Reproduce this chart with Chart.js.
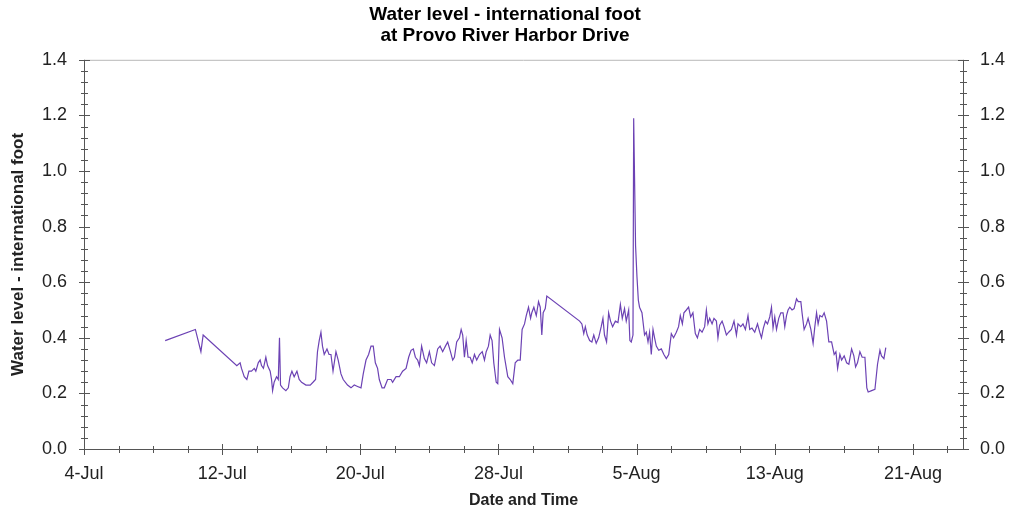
<!DOCTYPE html>
<html>
<head>
<meta charset="utf-8">
<title>Water level - Provo River Harbor Drive</title>
<script src="https://cdn.jsdelivr.net/npm/chart.js@4.4.0/dist/chart.umd.min.js"></script>
<style>
  html, body { margin: 0; padding: 0; background: #fff; }
  #wrap { width: 1010px; height: 514px; }
</style>
</head>
<body>
<div id="wrap"><canvas id="levelChart"></canvas></div>
<script>
// x values are days since 4-Jul 00:00
const dayTicks = [0, 8, 16, 24, 32, 40, 48];
const dateLabels = ['4-Jul', '12-Jul', '20-Jul', '28-Jul', '5-Aug', '13-Aug', '21-Aug'];
const levelTicks = [0, 0.2, 0.4, 0.6, 0.8, 1.0, 1.2, 1.4];
const dayMinorStep = 2;
const levelMinorStep = 0.04;

const days = [
  4.70, 6.45, 6.77, 6.90, 8.85, 9.04, 9.12, 9.28, 9.43, 9.55, 9.70, 9.86, 9.95,
  10.09, 10.20, 10.28, 10.39, 10.53, 10.63, 10.78, 10.86, 10.92, 11.01, 11.15, 11.25,
  11.32, 11.38, 11.50, 11.69, 11.83, 11.93, 12.04, 12.17, 12.33, 12.46, 12.60, 12.85,
  13.10, 13.26, 13.41, 13.52, 13.62, 13.72, 13.81, 13.91, 14.07, 14.19, 14.30, 14.42,
  14.59, 14.72, 14.88, 15.01, 15.26, 15.46, 15.65, 15.84, 16.04, 16.17, 16.33, 16.48,
  16.62, 16.75, 16.87, 17.00, 17.10, 17.26, 17.39, 17.58, 17.78, 17.87, 18.07, 18.26,
  18.45, 18.65, 18.80, 18.94, 19.07, 19.19, 19.32, 19.42, 19.55, 19.71, 19.84, 20.00,
  20.13, 20.29, 20.48, 20.62, 20.77, 20.93, 21.06, 21.20, 21.35, 21.45, 21.58, 21.74,
  21.84, 21.93, 22.03, 22.13, 22.24, 22.36, 22.48, 22.61, 22.74, 22.90, 23.06, 23.19,
  23.29, 23.42, 23.52, 23.63, 23.73, 23.87, 23.96, 24.06, 24.21, 24.35, 24.54, 24.68,
  24.83, 24.97, 25.12, 25.26, 25.37, 25.51, 25.61, 25.74, 25.86, 25.93, 26.05, 26.19,
  26.32, 26.42, 26.51, 26.59, 26.71, 26.80, 28.70, 28.83, 28.94, 29.03, 29.14, 29.28,
  29.41, 29.52, 29.66, 29.80, 29.95, 30.05, 30.14, 30.26, 30.38, 30.49, 30.61, 30.77,
  30.92, 31.06, 31.17, 31.30, 31.40, 31.54, 31.61, 31.69, 31.79, 31.83, 31.94, 32.02,
  32.10, 32.17, 32.31, 32.46, 32.56, 32.66, 32.75, 32.85, 32.95, 33.04, 33.14, 33.28,
  33.43, 33.58, 33.72, 33.86, 34.01, 34.14, 34.30, 34.43, 34.53, 34.65, 34.74, 34.88,
  35.01, 35.13, 35.26, 35.40, 35.52, 35.65, 35.79, 35.94, 36.04, 36.13, 36.23, 36.37,
  36.48, 36.62, 36.71, 36.81, 36.95, 37.06, 37.20, 37.33, 37.49, 37.64, 37.78, 37.87,
  38.03, 38.16, 38.30, 38.45, 38.55, 38.68, 38.84, 39.00, 39.13, 39.23, 39.34, 39.46,
  39.58, 39.71, 39.81, 39.90, 40.00, 40.10, 40.23, 40.35, 40.48, 40.58, 40.68, 40.77,
  40.87, 41.00, 41.12, 41.26, 41.36, 41.51, 41.58, 41.70, 41.84, 41.93, 42.09, 42.22,
  42.32, 42.42, 42.51, 42.61, 42.74, 42.86, 43.00, 43.13, 43.29, 43.44, 43.54, 43.64,
  43.77, 43.87, 44.02, 44.16, 44.29, 44.45, 44.58, 44.68, 44.79, 44.93, 45.06, 45.22,
  45.33, 45.41, 45.61, 45.80, 45.95, 46.09, 46.18, 46.32, 46.43
];

const levels = [
  0.39, 0.43, 0.35, 0.41, 0.30, 0.31, 0.29, 0.26, 0.25, 0.28, 0.28, 0.29, 0.28,
  0.31, 0.32, 0.30, 0.29, 0.33, 0.30, 0.28, 0.25, 0.21, 0.24, 0.26, 0.25,
  0.40, 0.23, 0.22, 0.21, 0.22, 0.26, 0.28, 0.26, 0.28, 0.25, 0.24, 0.23,
  0.23, 0.24, 0.25, 0.35, 0.39, 0.42, 0.37, 0.34, 0.36, 0.34, 0.34, 0.28,
  0.35, 0.32, 0.27, 0.25, 0.23, 0.22, 0.23, 0.225, 0.22, 0.27, 0.32, 0.34,
  0.37, 0.37, 0.31, 0.29, 0.25, 0.22, 0.22, 0.25, 0.25, 0.24, 0.26, 0.26,
  0.28, 0.29, 0.33, 0.355, 0.36, 0.33, 0.32, 0.30, 0.37, 0.325, 0.31, 0.35,
  0.31, 0.30, 0.36, 0.37, 0.35, 0.37, 0.385, 0.355, 0.32, 0.33, 0.385, 0.40,
  0.43, 0.41, 0.33, 0.39, 0.33, 0.33, 0.31, 0.34, 0.32, 0.34, 0.35, 0.32,
  0.35, 0.37, 0.41, 0.39, 0.31, 0.24, 0.235, 0.43, 0.40, 0.33, 0.26, 0.25,
  0.235, 0.31, 0.32, 0.32, 0.43, 0.45, 0.48, 0.51, 0.47, 0.49, 0.51, 0.48,
  0.53, 0.51, 0.41, 0.49, 0.505, 0.55, 0.46, 0.45, 0.415, 0.44, 0.41, 0.39,
  0.385, 0.41, 0.38, 0.40, 0.44, 0.47, 0.41, 0.385, 0.49, 0.46, 0.44, 0.46,
  0.455, 0.52, 0.47, 0.505, 0.46, 0.50, 0.39, 0.385, 0.41, 1.19, 0.73, 0.62,
  0.535, 0.51, 0.49, 0.41, 0.42, 0.385, 0.42, 0.34, 0.43, 0.40, 0.37, 0.355,
  0.36, 0.34, 0.325, 0.34, 0.415, 0.40, 0.42, 0.44, 0.48, 0.45, 0.49, 0.50,
  0.51, 0.475, 0.49, 0.415, 0.40, 0.43, 0.42, 0.44, 0.50, 0.45, 0.47, 0.45,
  0.47, 0.46, 0.40, 0.445, 0.46, 0.44, 0.41, 0.42, 0.43, 0.46, 0.41, 0.45,
  0.44, 0.45, 0.43, 0.48, 0.43, 0.435, 0.42, 0.45, 0.42, 0.40, 0.435, 0.46,
  0.45, 0.475, 0.51, 0.435, 0.475, 0.43, 0.47, 0.49, 0.49, 0.44, 0.48, 0.50,
  0.51, 0.50, 0.505, 0.54, 0.53, 0.53, 0.49, 0.43, 0.45, 0.47, 0.43, 0.38,
  0.44, 0.49, 0.45, 0.48, 0.475, 0.49, 0.46, 0.385, 0.385, 0.34, 0.35, 0.29,
  0.34, 0.32, 0.335, 0.31, 0.305, 0.36, 0.335, 0.295, 0.31, 0.35, 0.33, 0.33,
  0.22, 0.205, 0.21, 0.215, 0.305, 0.355, 0.335, 0.325, 0.365
];

const points = days.map((d, i) => ({ x: d, y: levels[i] }));

// frame and crossing tick marks, placed through the chart scales
const tickMarks = {
  id: 'tickMarks',
  afterDatasetsDraw(chart) {
    const { ctx, chartArea: a, scales: { x, y } } = chart;
    ctx.save();
    ctx.lineWidth = 1;
    ctx.strokeStyle = '#b8b8b8';
    ctx.beginPath();
    ctx.moveTo(a.left, a.top + 0.5);
    ctx.lineTo(a.right, a.top + 0.5);
    ctx.stroke();

    ctx.strokeStyle = '#555';
    ctx.beginPath();
    ctx.moveTo(a.left + 0.5, a.top);
    ctx.lineTo(a.left + 0.5, a.bottom + 0.5);
    ctx.lineTo(a.right + 0.5, a.bottom + 0.5);
    ctx.lineTo(a.right + 0.5, a.top);
    ctx.stroke();

    ctx.beginPath();
    for (let d = 0; d <= x.max; d += dayMinorStep) {
      const px = Math.round(x.getPixelForValue(d)) + 0.5;
      const len = dayTicks.includes(d) ? 5 : 3;
      ctx.moveTo(px, a.bottom - len);
      ctx.lineTo(px, a.bottom + len + 1);
    }
    const n = Math.round(y.max / levelMinorStep);
    for (let i = 0; i <= n; i++) {
      const py = Math.round(y.getPixelForValue(i * levelMinorStep)) + 0.5;
      const len = i % 5 === 0 ? 5 : 3;
      ctx.moveTo(a.left - len, py);
      ctx.lineTo(a.left + len + 1, py);
      ctx.moveTo(a.right - len, py);
      ctx.lineTo(a.right + len + 1, py);
    }
    ctx.stroke();
    ctx.restore();
  }
};

const tickFont = { family: 'Liberation Sans, Arial, sans-serif', size: 18 };

new Chart(document.getElementById('levelChart'), {
  type: 'line',
  data: {
    datasets: [{
      label: 'Water level',
      data: points,
      borderColor: '#6c42b4',
      borderWidth: 1.2,
      pointRadius: 0,
      tension: 0,
      fill: false
    }]
  },
  options: {
    responsive: true,
    maintainAspectRatio: false,
    animation: false,
    plugins: {
      legend: { display: false },
      tooltip: { enabled: false },
      title: {
        display: true,
        text: ['Water level - international foot', 'at Provo River Harbor Drive'],
        color: '#000',
        font: { family: 'Liberation Sans, Arial, sans-serif', size: 19, weight: 'bold', lineHeight: 1.1 },
        padding: { top: 4, bottom: 14 }
      }
    },
    scales: {
      x: {
        type: 'linear',
        min: 0,
        max: 50.9,
        afterBuildTicks: s => { s.ticks = dayTicks.map(v => ({ value: v })); },
        afterFit: s => { s.height = 65; },
        grid: { display: false, drawTicks: false },
        border: { display: false },
        ticks: {
          autoSkip: false,
          maxRotation: 0,
          padding: 14,
          color: '#222',
          font: tickFont,
          callback: (v, i) => dateLabels[i]
        },
        title: {
          display: true,
          text: 'Date and Time',
          color: '#222',
          font: { family: 'Liberation Sans, Arial, sans-serif', size: 16, weight: 'bold' },
          padding: { top: 0, bottom: 4 }
        }
      },
      y: {
        position: 'left',
        min: 0,
        max: 1.4,
        afterBuildTicks: s => { s.ticks = levelTicks.map(v => ({ value: v })); },
        afterFit: s => { s.width = 84; },
        grid: { display: false, drawTicks: false },
        border: { display: false },
        ticks: {
          padding: 17,
          color: '#222',
          font: tickFont,
          callback: v => v.toFixed(1)
        },
        title: {
          display: true,
          text: 'Water level - international foot',
          color: '#222',
          font: { family: 'Liberation Sans, Arial, sans-serif', size: 17, weight: 'bold' },
          padding: { top: 8, bottom: 0 }
        }
      },
      y2: {
        position: 'right',
        min: 0,
        max: 1.4,
        afterBuildTicks: s => { s.ticks = levelTicks.map(v => ({ value: v })); },
        afterFit: s => { s.width = 47; },
        grid: { display: false, drawTicks: false },
        border: { display: false },
        ticks: {
          padding: 17,
          color: '#222',
          font: tickFont,
          callback: v => v.toFixed(1)
        }
      }
    }
  },
  plugins: [tickMarks]
});
</script>
</body>
</html>
